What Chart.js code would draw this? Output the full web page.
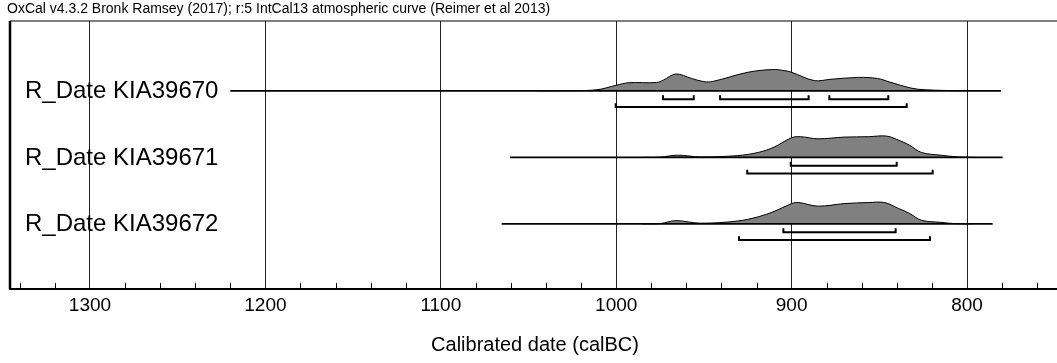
<!DOCTYPE html>
<html>
<head>
<meta charset="utf-8">
<script src="https://cdn.jsdelivr.net/npm/chart.js@4.4.1/dist/chart.umd.min.js"></script>
<style>
  html, body { margin: 0; padding: 0; background: #fff; overflow: hidden; }
  #wrap { position: relative; width: 1062px; height: 363px; }
</style>
</head>
<body>
<div id="wrap"><canvas id="oxcal" width="1062" height="363"></canvas></div>
<script>
// OxCal multiplot: three calibrated radiocarbon dates

var chartTitle  = 'OxCal v4.3.2 Bronk Ramsey (2017); r:5 IntCal13 atmospheric curve (Reimer et al 2013)';
var axisTitle   = 'Calibrated date (calBC)';
var sampleNames = ['R_Date KIA39670', 'R_Date KIA39671', 'R_Date KIA39672'];
var tickYears   = [1300, 1200, 1100, 1000, 900, 800];
var yearMin = 747, yearMax = 1345.6;

// probability curves (calBC, relative height)
var kia39670Years = [1045, 1026, 1011, 1000, 993, 977, 973, 966, 957, 950, 945, 925, 911, 904, 900, 887, 878, 862, 851, 844, 832, 824, 803];
var kia39670Prob  = [0, 0.01, 0.05, 0.26, 0.38, 0.39, 0.51, 0.79, 0.58, 0.43, 0.44, 0.87, 1.0, 0.95, 0.87, 0.48, 0.54, 0.63, 0.58, 0.41, 0.13, 0.05, 0];

var kia39671Years = [985, 975, 965, 952, 931, 919, 910, 900, 895, 885, 870, 856, 846, 840, 833, 826, 815, 805, 795];
var kia39671Prob  = [0, 0.01, 0.1, 0.02, 0.08, 0.23, 0.48, 0.92, 0.97, 0.87, 0.95, 0.97, 1.0, 0.84, 0.58, 0.23, 0.1, 0.02, 0];

var kia39672Years = [985, 975, 966, 952, 931, 919, 910, 900, 896, 885, 870, 856, 847, 839, 833, 826, 815, 807, 797];
var kia39672Prob  = [0, 0.01, 0.15, 0.03, 0.13, 0.33, 0.58, 0.95, 1.0, 0.83, 0.95, 1.0, 1.0, 0.72, 0.5, 0.17, 0.07, 0.01, 0];

var curveYears = [kia39670Years, kia39671Years, kia39672Years];
var curveProb  = [kia39670Prob, kia39671Prob, kia39672Prob];

// extent of each date's baseline
var lineStart = [1220, 1060.5, 1065.3];
var lineEnd   = [780.6, 779.7, 785.4];

// highest posterior density ranges
var range68 = [[[973.3, 955.8], [940.8, 890.3], [878.5, 844.9]], [[900.5, 840.1]], [[904.7, 840.7]]];
var range95 = [[[1000.3, 834.4]], [[925.3, 819.6]], [[930, 821.1]]];

var FONT = '"Liberation Sans", Arial, Helvetica, sans-serif';
var PEAK = 0.32;       // curve height in row units
var BR68 = 0.125, BR95 = 0.245, BR_TICK = 0.06;

function bracket(r, row, off) {
  var y = row + off;
  return [
    { x: r[0], y: y - BR_TICK }, { x: r[0], y: y },
    { x: r[1], y: y }, { x: r[1], y: y - BR_TICK }
  ];
}

var datasets = [];
sampleNames.forEach(function(name, i) {
  datasets.push({
    label: name,
    data: curveYears[i].map(function(yr, k) { return { x: yr, y: i - curveProb[i][k] * PEAK }; }),
    fill: { value: i },
    backgroundColor: '#808080',
    borderColor: '#000',
    borderWidth: 1,
    pointRadius: 0,
    tension: 0.35,
    order: 3
  });
  datasets.push({
    data: [{ x: lineStart[i], y: i }, { x: lineEnd[i], y: i }],
    borderColor: '#000', borderWidth: 1.6, pointRadius: 0, fill: false, order: 2
  });
  range68[i].forEach(function(r) {
    datasets.push({ data: bracket(r, i, BR68), borderColor: '#000', borderWidth: 2, pointRadius: 0, fill: false, tension: 0, order: 1 });
  });
  range95[i].forEach(function(r) {
    datasets.push({ data: bracket(r, i, BR95), borderColor: '#000', borderWidth: 2, pointRadius: 0, fill: false, tension: 0, order: 1 });
  });
});

var framePlugin = {
  id: 'oxcalFrame',
  afterDraw: function(chart) {
    var ctx = chart.ctx, a = chart.chartArea;
    var xs = chart.scales.x, ys = chart.scales.y;
    ctx.save();
    ctx.strokeStyle = '#000';
    // frame top + left
    ctx.lineWidth = 1.2;
    ctx.beginPath(); ctx.moveTo(a.left, a.top); ctx.lineTo(a.right, a.top); ctx.stroke();
    ctx.lineWidth = 2.5;
    ctx.beginPath(); ctx.moveTo(a.left, a.top); ctx.lineTo(a.left, a.bottom); ctx.stroke();
    // minor ticks every 20 years
    ctx.lineWidth = 1;
    for (var yr = 1340; yr >= yearMin; yr -= 20) {
      if (yr % 100 === 0) continue;
      var px = Math.round(xs.getPixelForValue(yr)) + 0.5;
      ctx.beginPath(); ctx.moveTo(px, a.bottom); ctx.lineTo(px, a.bottom - 6); ctx.stroke();
    }
    // header
    ctx.fillStyle = '#000';
    ctx.font = '14px ' + FONT;
    ctx.textAlign = 'left';
    ctx.textBaseline = 'alphabetic';
    ctx.fillText(chartTitle, 7, 13);
    // sample names
    ctx.font = '24px ' + FONT;
    ctx.textBaseline = 'middle';
    sampleNames.forEach(function(name, i) {
      ctx.fillText(name, 25, ys.getPixelForValue(i) + 1);
    });
    ctx.restore();
  }
};

new Chart(document.getElementById('oxcal').getContext('2d'), {
  type: 'line',
  data: { datasets: datasets },
  options: {
    responsive: false,
    animation: false,
    events: [],
    layout: { padding: { left: 10, right: 2, top: 21, bottom: 0 } },
    plugins: { legend: { display: false }, tooltip: { enabled: false }, title: { display: false } },
    scales: {
      x: {
        type: 'linear',
        reverse: true,
        min: yearMin,
        max: yearMax,
        z: 1,
        afterBuildTicks: function(s) { s.ticks = tickYears.map(function(v) { return { value: v }; }); },
        afterFit: function(s) { s.height = 74; },
        grid: { color: '#222', lineWidth: 1, drawTicks: false },
        border: { display: true, color: '#000', width: 2 },
        ticks: {
          color: '#000', padding: 5, maxRotation: 0, autoSkip: false,
          font: { family: FONT, size: 19 },
          callback: function(v) { return String(v); }
        },
        title: {
          display: true, text: axisTitle, color: '#000',
          font: { family: FONT, size: 20 },
          padding: { top: 0, bottom: 6 }
        }
      },
      y: { type: 'linear', display: false, reverse: true, min: -1.05, max: 2.98 }
    }
  },
  plugins: [framePlugin]
});
</script>
</body>
</html>
